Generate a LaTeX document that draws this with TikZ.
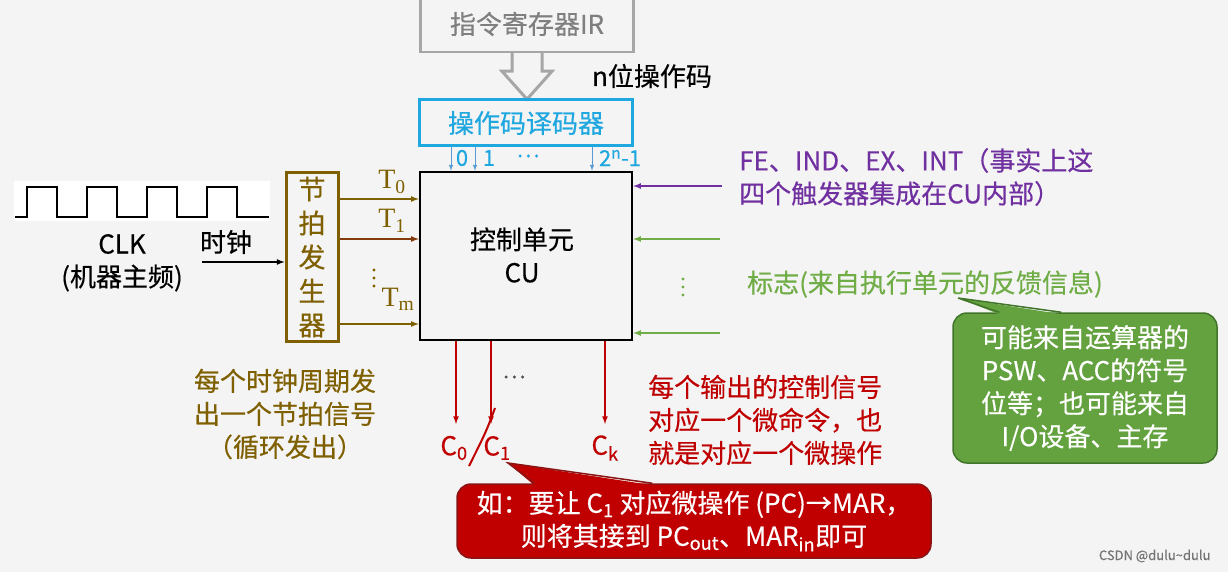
\documentclass[tikz,border=0pt]{standalone}
\usepackage{fontspec}
\setmainfont{Noto Sans CJK SC}[FakeBold=0.4]
\newfontfamily\tfont{Liberation Serif}
\usetikzlibrary{calc}
\definecolor{irgray}{HTML}{A6A6A6}
\definecolor{irtext}{HTML}{7F7F7F}
\definecolor{deccyan}{HTML}{1FA7E0}
\definecolor{declines}{HTML}{5B9BD5}
\definecolor{olive}{HTML}{7F6000}
\definecolor{tbrown}{HTML}{843C0C}
\definecolor{fepurple}{HTML}{7030A0}
\definecolor{flaggreen}{HTML}{70AD47}
\definecolor{boxgreen}{HTML}{63A23F}
\definecolor{boxgreenline}{HTML}{41752A}
\definecolor{sigred}{HTML}{C00000}
\definecolor{boxredline}{HTML}{8A1414}
\definecolor{bg}{HTML}{F4F4F4}
\tikzstyle{txt}=[inner sep=0pt,font=\fontsize{26}{33}\selectfont]
\tikzstyle{smalltxt}=[inner sep=0pt,font=\fontsize{22}{24}\selectfont]
\tikzstyle{unitbox}=[draw,line width=2.5pt,inner sep=0pt]
\tikzstyle{sig}=[->,>=latex,line width=1.6pt]
\tikzstyle{callout}=[rounded corners=14pt,line width=1.5pt,text=white,align=center]
\newcommand{\Tsig}[1]{{\tfont\fontsize{28}{28}\selectfont T\textsubscript{#1}}} % T_i beat signal
\newcommand{\dotcol}[3]{\foreach \k in {0,1,2} \fill[#1] (#2,#3+\k*8) circle (1.6);} % vertical dots: color, x, top y
\begin{document}
\begin{tikzpicture}[x=1pt,y=-1pt]
	\fill[bg] (0,0) rectangle (1228,572);
	\useasboundingbox (0,0) rectangle (1228,572);
	% IR and opcode decoder
	\node[unitbox,txt,draw=irgray,text=irtext,minimum width=213,minimum height=56] (ir) at (527,24) {指令寄存器IR};
	\draw[irgray,line width=3pt,fill=bg] (ir.south) ++(-15,0) -- ++(0,18) -- ++(-10,0) -- ++(25,28) -- ++(25,-28) -- ++(-10,0) -- ++(0,-18);
	\node[txt] (nbits) at (652,76) {n位操作码};
	\node[unitbox,txt,draw=deccyan,text=deccyan,line width=3pt,minimum width=213,minimum height=46] (dec) at (526,123) {操作码译码器};
	% control unit
	\node[unitbox,minimum width=212,minimum height=168] (cu) at (526,256) {};
	\node[txt,align=center] (cutext) at (522,255) {控制单元\\CU};
	\foreach \x in {451,475,592}
		\draw[->,>=latex,declines,line width=1pt] (dec.south -| \x,0) -- (cu.north -| \x,0);
	\node[smalltxt,text=deccyan] (d0) at (462,158) {0};
	\node[smalltxt,text=deccyan] (d1) at (489,158) {1};
	\node[smalltxt,text=deccyan] (ddots) at (528,156) {…};
	\node[smalltxt,text=deccyan] (dn) at (620,158) {2\textsuperscript{\itshape n}-1};
	% clock
	\fill[white] (14,181) rectangle (270,221);
	\draw[line width=2pt] (15,217) foreach \x in {27,87,147,207} { -- (\x,217) -- (\x,187) -- (\x+30,187) -- (\x+30,217) } -- (269,217);
	\node[txt] (clk) at (122,244) {CLK};
	\node[txt] (clkname) at (122,278) {(机器主频)};
	\node[txt] (shizhong) at (226,242) {时钟};
	\node[unitbox,draw=olive,text=olive,line width=3pt,minimum width=52,minimum height=169,align=center,font=\fontsize{27}{34}\selectfont] (gen) at (312,257) {节\\拍\\发\\生\\器};
	\coordinate (clkin) at (202,262);
	\draw[sig] (clkin) -- (gen.west |- clkin);
	% beat signals
	\coordinate (t0) at (0,199);
	\coordinate (t1) at (0,239);
	\coordinate (tm) at (0,324);
	\draw[sig,olive] (gen.east |- t0) -- (cu.west |- t0);
	\draw[sig,tbrown] (gen.east |- t1) -- (cu.west |- t1);
	\draw[sig,olive] (gen.east |- tm) -- (cu.west |- tm);
	\node[inner sep=0pt,text=olive] (t0lab) at (392,182) {\Tsig{0}};
	\node[inner sep=0pt,text=olive] (t1lab) at (392,221) {\Tsig{1}};
	\dotcol{olive}{374}{270}
	\node[inner sep=0pt,text=olive] (tmlab) at (398,299) {\Tsig{m}};
	\node[txt,text=olive,align=center] (gennote) at (285,414) {每个时钟周期发\\出一个节拍信号\\（循环发出）};
	% inputs from the right
	\coordinate (fe) at (722,186);
	\coordinate (flag1) at (720,239);
	\coordinate (flagk) at (720,333);
	\draw[sig,fepurple] (fe) -- (cu.east |- fe);
	\draw[sig,flaggreen] (flag1) -- (cu.east |- flag1);
	\draw[sig,flaggreen] (flagk) -- (cu.east |- flagk);
	\dotcol{flaggreen}{683}{279}
	\node[txt,text=fepurple,align=left,anchor=west] (fetext) at (739,177) {FE、IND、EX、INT（事实上这\\四个触发器集成在CU内部）};
	\node[txt,text=flaggreen,anchor=west] (flagtext) at (747,284) {标志(来自执行单元的反馈信息)};
	\node[txt,callout,fill=boxgreen,draw=boxgreenline,minimum width=264,minimum height=150] (flagnote) at (1085,388) {可能来自运算器的\\PSW、ACC的符号\\位等；也可能来自\\I/O设备、主存};
	\coordinate (flagtip) at (958,298);
	\fill[boxgreen] ($(flagnote.north west)+(47,2)$) -- (flagtip) -- ($(flagnote.north west)+(109,2)$) -- cycle;
	\draw[boxgreenline,line width=1.5pt] ($(flagnote.north west)+(47,0)$) -- (flagtip) -- ($(flagnote.north west)+(109,0)$);
	% control signals
	\node[txt,text=sigred] (c0) at (454,448) {C\textsubscript{0}};
	\node[txt,text=sigred] (c1) at (497,448) {C\textsubscript{1}};
	\node[txt,text=sigred] (ck) at (605,448) {C\textsubscript{k}};
	\foreach \x/\lab in {456/c0,491/c1,605/ck} {
		\coordinate (\lab-end) at (\x,424);
		\draw[sig,sigred] (cu.south -| \lab-end) -- (\lab-end);
	}
	\node[smalltxt,text=black!70] (cdots) at (514,377) {…};
	\draw[sigred,line width=2pt] (495,408) .. controls (486,432) .. (469,466); % pen mark
	\node[txt,text=sigred,align=left,anchor=west] (cnote) at (648,420) {每个输出的控制信号\\对应一个微命令，也\\就是对应一个微操作};
	\node[txt,callout,fill=sigred,draw=boxredline,minimum width=474,minimum height=74] (c1note) at (694,521) {如：要让 C\textsubscript{1} 对应微操作 (PC)→MAR，\\则将其接到 PC\textsubscript{out}、MAR\textsubscript{in}即可};
	\coordinate (c1tip) at (508,463);
	\fill[sigred] ($(c1note.north west)+(78,2)$) -- (c1tip) -- ($(c1note.north west)+(196,2)$) -- cycle;
	\draw[boxredline,line width=1.5pt] ($(c1note.north west)+(78,0)$) -- (c1tip) -- ($(c1note.north west)+(196,0)$);
	\node[font=\fontsize{13}{13}\selectfont,text=black!55,anchor=east] (mark) at (1214,556) {CSDN @dulu\textasciitilde dulu};
\end{tikzpicture}
\end{document}
